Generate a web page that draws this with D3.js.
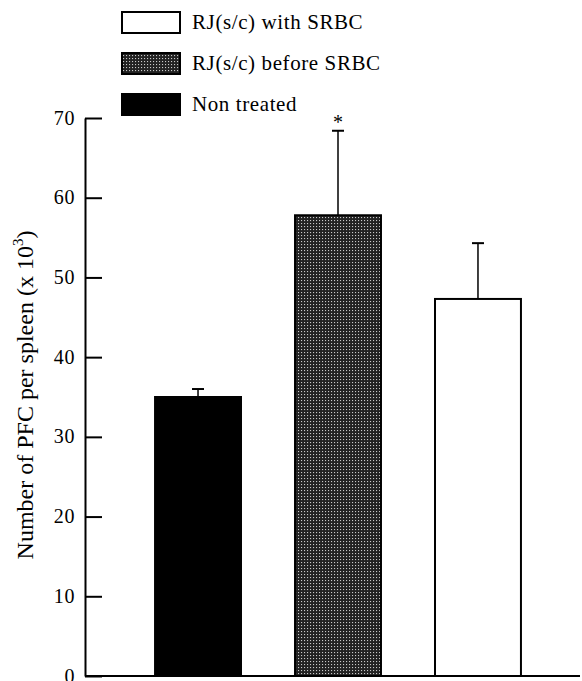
<!DOCTYPE html>
<html>
<head>
<meta charset="utf-8">
<script src="https://cdn.jsdelivr.net/npm/d3@7"></script>
<style>
  body { margin: 0; background: #fff; }
  text { font-family: "Liberation Serif", "Times New Roman", serif; fill: #000; }
</style>
</head>
<body>
<div id="chart"></div>
<script>
// data
const groups = ["Non treated", "RJ(s/c) before SRBC", "RJ(s/c) with SRBC"]
const means = [35.0, 57.8, 47.3]
const errs = [1.0, 10.6, 7.0]
const signif = ["", "*", ""]
const yTicks = [0, 10, 20, 30, 40, 50, 60, 70]
const legendOrder = ["RJ(s/c) with SRBC", "RJ(s/c) before SRBC", "Non treated"]

const width = 582, height = 681

const data = groups.map((g, i) => ({ group: g, mean: means[i], err: errs[i], mark: signif[i] }))

const svg = d3.select("#chart")
  .append("svg")
  .attr("width", width)
  .attr("height", height)

const defs = svg.append("defs")
const pat = defs.append("pattern")
  .attr("id", "dots")
  .attr("patternUnits", "userSpaceOnUse")
  .attr("width", 3)
  .attr("height", 3)
pat.append("rect").attr("width", 3).attr("height", 3).attr("fill", "#222")
pat.append("rect").attr("x", 1).attr("y", 1).attr("width", 1.1).attr("height", 1.1).attr("fill", "#c8c8c8")

const fills = {
  "Non treated": "#000",
  "RJ(s/c) before SRBC": "url(#dots)",
  "RJ(s/c) with SRBC": "#fff"
}

const yScale = d3.scaleLinear()
  .domain([0, 70])
  .range([676, 118])

const xScale = d3.scaleBand()
  .domain(groups)
  .range([88, 588])
  .paddingInner(0.386)
  .paddingOuter(0.479)

// baseline
svg.append("line")
  .attr("x1", 85).attr("x2", 580)
  .attr("y1", yScale(0)).attr("y2", yScale(0))
  .attr("stroke", "#000").attr("stroke-width", 2)

// y axis, ticks pointing inward
const yAxis = d3.axisLeft(yScale)
  .tickValues(yTicks)
  .tickSizeInner(-17)
  .tickSizeOuter(0)
  .tickPadding(10)

svg.append("g")
  .attr("class", "yAxis")
  .attr("transform", "translate(85,0)")
  .call(yAxis)
  .call(g => g.select(".domain").attr("stroke-width", 2))
  .call(g => g.selectAll(".tick line").attr("stroke-width", 2))
  .call(g => g.selectAll(".tick text")
    .attr("font-size", 20)
    .attr("letter-spacing", 0.6)
    .attr("font-family", "Liberation Serif, serif")
    .attr("dy", "0.3em"))

// y label
const ylab = svg.append("text")
  .attr("transform", "translate(33,395) rotate(-90)")
  .attr("text-anchor", "middle")
  .attr("font-size", 24)
ylab.append("tspan").text("Number of PFC per spleen (x 10")
ylab.append("tspan").text("3").attr("font-size", 15).attr("dy", -10)
ylab.append("tspan").text(")").attr("dy", 10)

// error bars (upper only)
svg.selectAll(".err")
  .data(data)
  .join("line")
  .attr("class", "err")
  .attr("x1", d => xScale(d.group) + xScale.bandwidth() / 2)
  .attr("x2", d => xScale(d.group) + xScale.bandwidth() / 2)
  .attr("y1", d => yScale(d.mean))
  .attr("y2", d => yScale(d.mean + d.err))
  .attr("stroke", "#000").attr("stroke-width", 1.5)

svg.selectAll(".cap")
  .data(data)
  .join("line")
  .attr("class", "cap")
  .attr("x1", d => xScale(d.group) + xScale.bandwidth() / 2 - 6)
  .attr("x2", d => xScale(d.group) + xScale.bandwidth() / 2 + 6)
  .attr("y1", d => yScale(d.mean + d.err))
  .attr("y2", d => yScale(d.mean + d.err))
  .attr("stroke", "#000").attr("stroke-width", 2)

// bars
svg.selectAll(".bar")
  .data(data)
  .join("rect")
  .attr("class", "bar")
  .attr("x", d => xScale(d.group))
  .attr("y", d => yScale(d.mean))
  .attr("width", xScale.bandwidth())
  .attr("height", d => yScale(0) - yScale(d.mean))
  .attr("fill", d => fills[d.group])
  .attr("stroke", "#000")
  .attr("stroke-width", 2)

// significance mark
svg.selectAll(".sig")
  .data(data.filter(d => d.mark))
  .join("text")
  .attr("class", "sig")
  .attr("x", d => xScale(d.group) + xScale.bandwidth() / 2)
  .attr("y", d => yScale(d.mean + d.err) - 2)
  .attr("text-anchor", "middle")
  .attr("font-size", 20)
  .text(d => d.mark)

// legend
const legend = svg.append("g").attr("transform", "translate(122,10)")
const item = legend.selectAll("g")
  .data(legendOrder)
  .join("g")
  .attr("transform", (d, i) => `translate(0,${i * 41})`)
item.append("rect")
  .attr("x", 0).attr("y", 2)
  .attr("width", 58).attr("height", 21)
  .attr("fill", d => fills[d])
  .attr("stroke", "#000")
  .attr("stroke-width", 2)
item.append("text")
  .attr("x", 70).attr("y", 19)
  .attr("font-size", 21)
  .attr("letter-spacing", 0.6)
  .text(d => d)
</script>
</body>
</html>
